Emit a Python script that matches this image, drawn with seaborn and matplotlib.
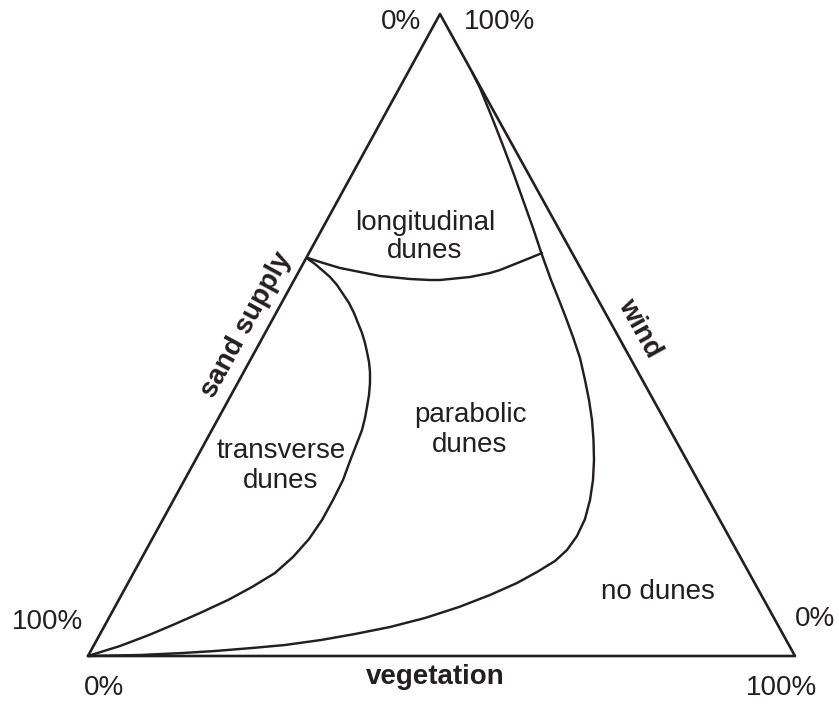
import matplotlib
matplotlib.use("Agg")
import matplotlib.pyplot as plt
import pandas as pd
import seaborn as sns

# triangle corners (picture coordinates, y grows downward)
tri_x = [88, 440, 795, 88]
tri_y = [656, 14, 656, 656]

# boundary between longitudinal and parabolic dunes
long_x = [308, 320, 330, 340, 350, 360, 370, 380, 390, 400, 410, 420, 430, 440,
          450, 460, 470, 480, 490, 500, 510, 520, 530, 542]
long_y = [258, 262, 265, 268, 270, 272, 274, 276, 277, 278, 279, 279.5, 280, 280,
          279, 278, 277, 275, 273, 270, 266, 262, 258, 253]

# boundary between transverse and parabolic dunes
trans_x = [308, 315, 322, 330, 337, 343, 349, 354, 358, 362, 365, 367, 369, 370,
           370, 369, 367, 365, 362, 357, 350, 343, 333, 322, 309, 293, 275, 252,
           228, 200, 175, 149, 120, 88]
trans_y = [259, 264, 270, 277, 285, 294, 303, 313, 323, 333, 343, 352, 362, 372,
           383, 395, 407, 418, 430, 443, 461, 480, 500, 520, 539, 557, 573, 587,
           600, 613, 624, 635, 646, 656]

# boundary between parabolic dunes and no dunes
para_x = [472, 480, 491, 502, 513, 523, 533, 542, 551, 559, 566, 573, 580, 585,
          589, 592, 593.5, 594, 593, 590, 585, 577, 567, 555, 537, 517, 490, 459,
          425, 390, 355, 321, 285, 252, 215, 183, 140, 88]
para_y = [72, 88, 115, 143, 172, 200, 228, 255, 280, 300, 318, 337, 358, 380,
          400, 420, 440, 460, 480, 500, 519, 536, 550, 561, 572, 583, 595, 607,
          618, 627, 634, 640, 645, 648, 651, 653, 655, 656]

region_labels = ["longitudinal\ndunes", "transverse\ndunes", "parabolic\ndunes", "no dunes"]
region_x = [425, 281, 470, 658]
region_y = [237, 466, 430, 592]

pct_labels = ["0%", "100%", "100%", "0%", "0%", "100%"]
pct_x = [401, 499, 48, 104, 815, 782]
pct_y = [22, 22, 622, 688, 619, 688]

sns.set_style("white")
plt.rcParams["font.family"] = ["Liberation Sans", "DejaVu Sans"]

ink = "#231f20"
fig = plt.figure(figsize=(8.39, 7.06), dpi=100)
ax = fig.add_axes([0, 0, 1, 1])

curves = [(tri_x, tri_y, 1.9), (long_x, long_y, 1.75),
          (trans_x, trans_y, 1.75), (para_x, para_y, 1.75)]
for xs, ys, lw in curves:
    df = pd.DataFrame({"x": xs, "y": ys})
    sns.lineplot(data=df, x="x", y="y", sort=False, estimator=None,
                 color=ink, lw=lw, ax=ax, solid_joinstyle="round",
                 solid_capstyle="round")

for lab, x, y in zip(region_labels, region_x, region_y):
    ax.text(x, y, lab, ha="center", va="center", fontsize=20, color=ink,
            linespacing=1.15)

for lab, x, y in zip(pct_labels, pct_x, pct_y):
    ax.text(x, y, lab, ha="center", va="center", fontsize=20, color=ink)

ax.text(435, 677, "vegetation", ha="center", va="center", fontsize=20,
        fontweight="bold", color=ink)
ax.text(246, 325, "sand supply", ha="center", va="center", fontsize=20,
        fontweight="bold", color=ink, rotation=61.3, rotation_mode="anchor")
ax.text(640, 328, "wind", ha="center", va="center", fontsize=20,
        fontweight="bold", color=ink, rotation=-61, rotation_mode="anchor")

ax.set_xlim(0, 839)
ax.set_ylim(706, 0)
ax.set_axis_off()

fig.savefig("out.png", dpi=100)
